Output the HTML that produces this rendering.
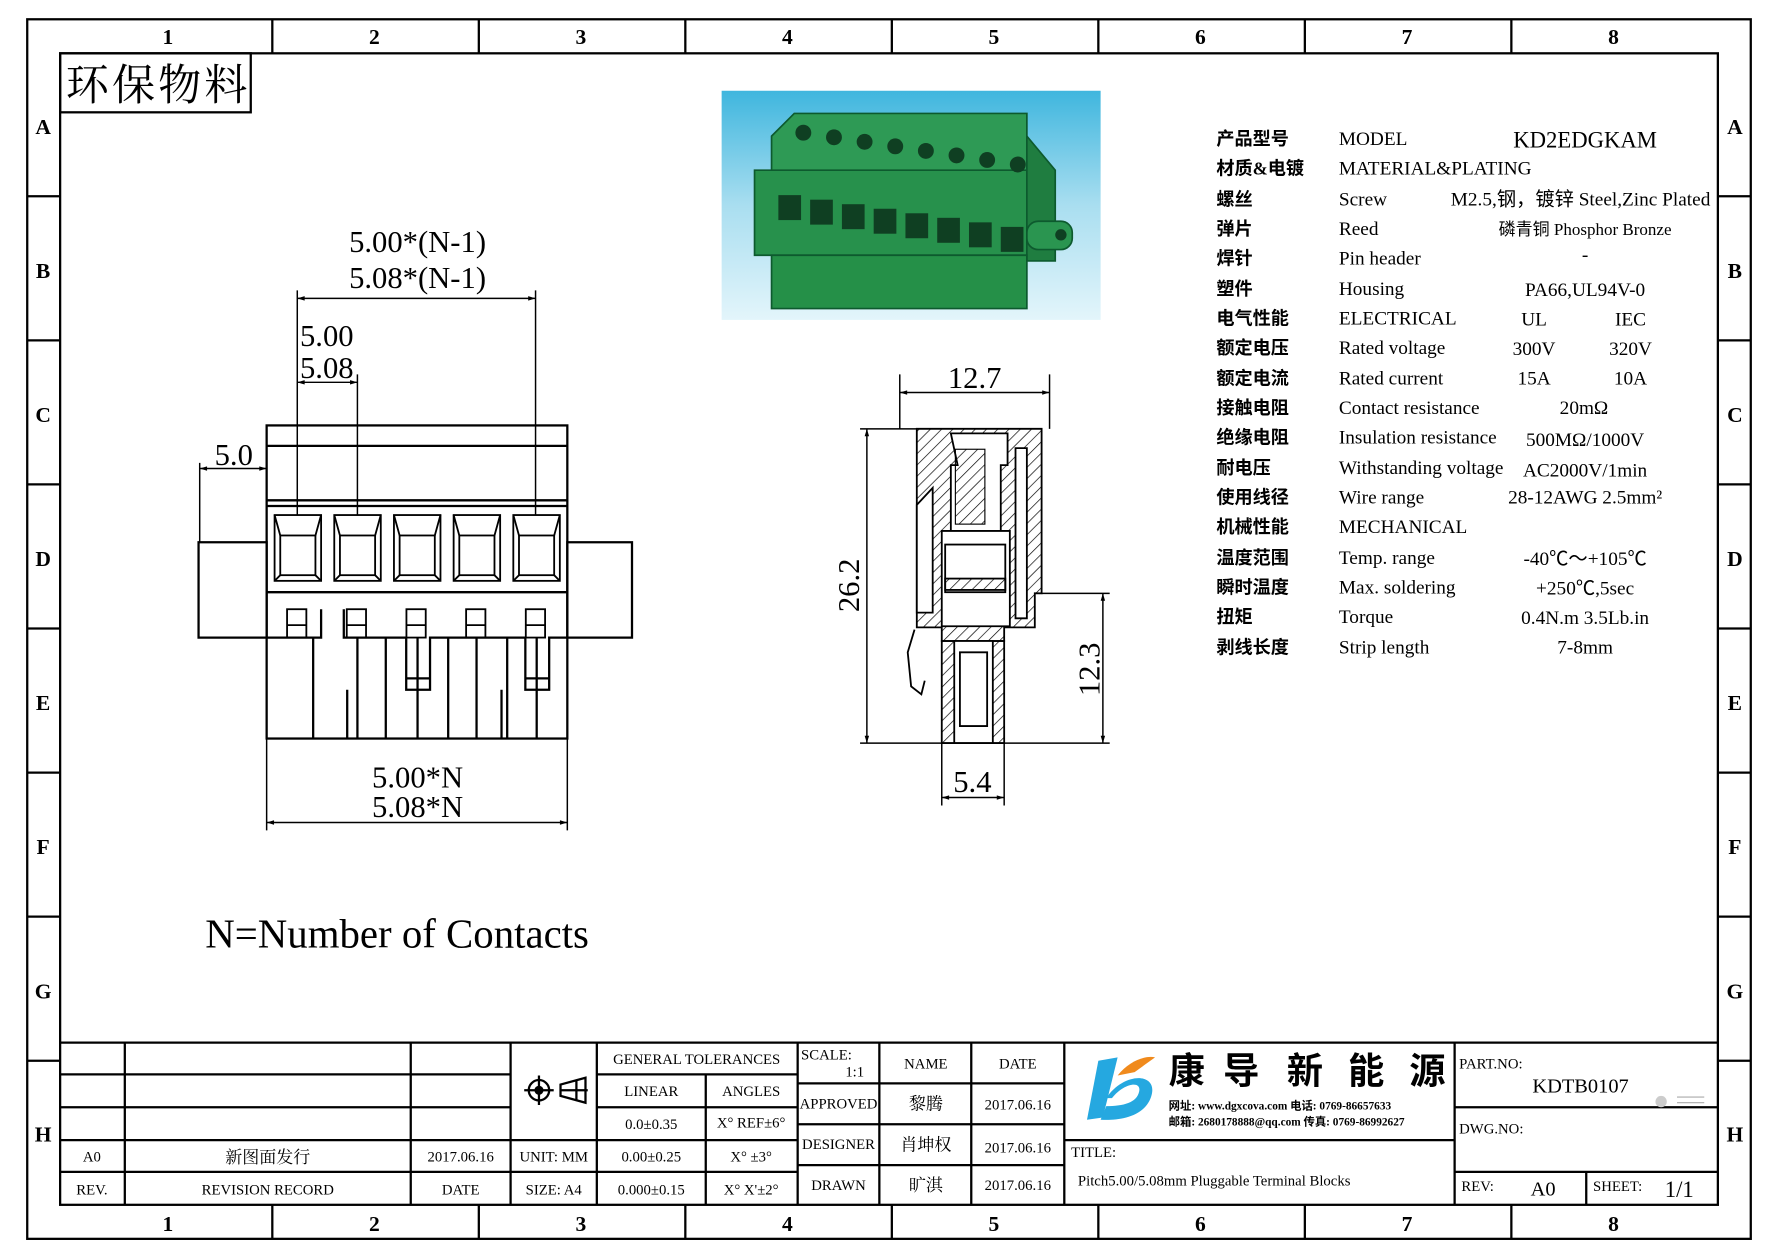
<!DOCTYPE html>
<html><head><meta charset="utf-8"><style>
html,body{margin:0;padding:0;background:#fff}
svg{display:block}
text{font-family:"Liberation Sans Narrow","Liberation Serif","Noto Sans CJK SC",serif;fill:#000}
.c{font-family:"Liberation Sans","Noto Sans CJK SC",sans-serif;font-weight:bold}
.s{font-family:"Liberation Serif","Noto Serif CJK SC","Noto Sans CJK SC",serif}
</style></head><body>
<svg width="1778" height="1257" viewBox="0 0 1567 1108" preserveAspectRatio="none" xmlns="http://www.w3.org/2000/svg">
<defs>
<pattern id="h" width="7" height="7" patternUnits="userSpaceOnUse" patternTransform="rotate(45)"><line x1="0" y1="0" x2="0" y2="7" stroke="#000" stroke-width="1.2"/></pattern>
<linearGradient id="bg" x1="0" y1="0" x2="0" y2="1"><stop offset="0" stop-color="#3fb6de"/><stop offset="0.5" stop-color="#a9def0"/><stop offset="1" stop-color="#e3f5fb"/></linearGradient>
<marker id="a" viewBox="0 0 10 10" refX="10" refY="5" markerWidth="8" markerHeight="5" orient="auto-start-reverse"><path d="M0,2 L10,5 L0,8z" fill="#000"/></marker>
</defs>
<g fill="none" stroke="#000" stroke-width="2">
<rect x="24" y="17" width="1519" height="1075"/>
<rect x="53" y="47" width="1461" height="1015"/>
<path d="M240 17V47M422 17V47M604 17V47M786 17V47M968 17V47M1150 17V47M1332 17V47M240 1062V1092M422 1062V1092M604 1062V1092M786 1062V1092M968 1062V1092M1150 1062V1092M1332 1062V1092"/>
<path d="M24 173H53M24 300H53M24 427H53M24 554H53M24 681H53M24 808H53M24 935H53M1514 173H1543M1514 300H1543M1514 427H1543M1514 554H1543M1514 681H1543M1514 808H1543M1514 935H1543"/>
<rect x="53" y="47" width="168" height="52"/>
</g>
<g class="c" font-size="19" text-anchor="middle">
<text x="148" y="39">1</text><text x="330" y="39">2</text><text x="512" y="39">3</text><text x="694" y="39">4</text><text x="876" y="39">5</text><text x="1058" y="39">6</text><text x="1240" y="39">7</text><text x="1422" y="39">8</text>
<text x="148" y="1085">1</text><text x="330" y="1085">2</text><text x="512" y="1085">3</text><text x="694" y="1085">4</text><text x="876" y="1085">5</text><text x="1058" y="1085">6</text><text x="1240" y="1085">7</text><text x="1422" y="1085">8</text>
<text x="38" y="118">A</text><text x="38" y="245">B</text><text x="38" y="372">C</text><text x="38" y="499">D</text><text x="38" y="626">E</text><text x="38" y="753">F</text><text x="38" y="880">G</text><text x="38" y="1006">H</text>
<text x="1529" y="118">A</text><text x="1529" y="245">B</text><text x="1529" y="372">C</text><text x="1529" y="499">D</text><text x="1529" y="626">E</text><text x="1529" y="753">F</text><text x="1529" y="880">G</text><text x="1529" y="1006">H</text>
</g>
<text x="58" y="88" font-size="38" class="s" textLength="160">环保物料</text>

<rect x="636" y="80" width="334" height="202" fill="url(#bg)"/>
<g stroke="#0d5a2e" stroke-width="1.5">
<path d="M680 120 L700 100 L905 100 L905 160 L680 160Z" fill="#2e9a55"/>
<path d="M665 150 L905 150 L905 225 L665 225Z" fill="#27914c"/>
<path d="M905 120 L930 150 L930 230 L905 230Z" fill="#1f7d40"/>
<path d="M680 225 L905 225 L905 272 L680 272Z" fill="#259048"/>
<rect x="905" y="195" width="40" height="25" rx="10" fill="#2a9550"/>
</g>
<g fill="#0f3f22">
<circle cx="708" cy="117" r="7"/><circle cx="735" cy="121" r="7"/><circle cx="762" cy="125" r="7"/><circle cx="789" cy="129" r="7"/><circle cx="816" cy="133" r="7"/><circle cx="843" cy="137" r="7"/><circle cx="870" cy="141" r="7"/><circle cx="897" cy="145" r="7"/>
<rect x="686" y="172" width="20" height="22"/><rect x="714" y="176" width="20" height="22"/><rect x="742" y="180" width="20" height="22"/><rect x="770" y="184" width="20" height="22"/><rect x="798" y="188" width="20" height="22"/><rect x="826" y="192" width="20" height="22"/><rect x="854" y="196" width="20" height="22"/><rect x="882" y="200" width="20" height="22"/>
<circle cx="935" cy="207" r="5"/>
</g>

<g fill="none" stroke="#000" stroke-width="2">
<rect x="235" y="375" width="265" height="276"/>
<path d="M235 393H500M235 441H500M235 446H500M235 522H500M175 478H235V562H175ZM500 478H557V562H500Z"/>
<path d="M235 562H283V537M303 537V562H358M358 562V608H379V562H463M463 562V608H484V562H500M358 598H379M463 598H484"/>
<path d="M276 562V651M315 562V651M340 562V651M368 562V651M395 562V651M420 562V651M447 562V651M473 562V651M306 608V651M442 608V651"/>
</g>
<g fill="none" stroke="#000" stroke-width="1.6">
<g id="w"><rect x="242" y="454" width="41" height="58"/><rect x="247" y="472" width="31" height="35"/><path d="M242 454L247 472M283 454L278 472M242 512L247 507M283 512L278 507"/><rect x="253" y="537" width="17" height="25"/><path d="M253 551H270"/></g>
<use href="#w" x="52.6"/><use href="#w" x="105.2"/><use href="#w" x="157.8"/><use href="#w" x="210.4"/>
</g>
<g stroke="#000" stroke-width="1.3" fill="none">
<path d="M262 454V256M472 454V256M315 454V330M262 420V330"/>
<path d="M262 263H472" marker-start="url(#a)" marker-end="url(#a)"/>
<path d="M262 337H315" marker-start="url(#a)" marker-end="url(#a)"/>
<path d="M176 478V408M235 408V375"/>
<path d="M176 413H235" marker-start="url(#a)" marker-end="url(#a)"/>
<path d="M235 651V732M500 651V732"/>
<path d="M235 725H500" marker-start="url(#a)" marker-end="url(#a)"/>
</g>
<g font-size="27" text-anchor="middle">
<text x="368" y="222">5.00*(N-1)</text><text x="368" y="254">5.08*(N-1)</text>
<text x="288" y="305">5.00</text><text x="288" y="333">5.08</text>
<text x="206" y="410">5.0</text>
<text x="368" y="694">5.00*N</text><text x="368" y="720">5.08*N</text>
<text x="350" y="835" font-size="36">N=Number of Contacts</text>
</g>

<g stroke="#000" stroke-width="1.6">
<path d="M808 378H918V523H912V553H885V565H830V553H808Z" fill="url(#h)"/>
<path d="M838 382H888V410H882V468H838V410H844Z" fill="#fff"/>
<rect x="842" y="396" width="26" height="66" fill="url(#h)" stroke-width="1"/>
<path d="M830 468H890V552H830Z" fill="#fff"/>
<rect x="833" y="480" width="53" height="42" fill="#fff"/>
<rect x="833" y="510" width="53" height="10" fill="url(#h)"/>
<path d="M822 430L808 445V540H822Z" fill="#fff"/>
<path d="M895 395H905V545H895Z" fill="#fff"/>
<path d="M830 565H885V655H830Z" fill="url(#h)"/>
<path d="M841 565H875V655H841Z" fill="#fff"/>
<path d="M846 575H870V640H846Z" fill="none"/>
<path d="M806 555L800 575L803 605L812 612L815 600" fill="none"/>
</g>
<g stroke="#000" stroke-width="1.3" fill="none">
<path d="M793 378V330M925 378V330"/>
<path d="M793 346H925" marker-start="url(#a)" marker-end="url(#a)"/>
<path d="M758 378H808M758 655H978M918 523H978"/>
<path d="M764 378V655" marker-start="url(#a)" marker-end="url(#a)"/>
<path d="M972 523V655" marker-start="url(#a)" marker-end="url(#a)"/>
<path d="M830 655V710M885 655V710"/>
<path d="M830 703H885" marker-start="url(#a)" marker-end="url(#a)"/>
</g>
<g font-size="27" text-anchor="middle">
<text x="859" y="342">12.7</text>
<text x="857" y="698">5.4</text>
<text transform="translate(757,516) rotate(-90)">26.2</text>
<text transform="translate(969,590) rotate(-90)">12.3</text>
</g>

<g font-size="17">
<g class="c" font-size="16">
<text x="1072" y="128">产品型号</text><text x="1072" y="154">材质&amp;电镀</text><text x="1072" y="181">螺丝</text><text x="1072" y="207">弹片</text><text x="1072" y="233">焊针</text><text x="1072" y="260">塑件</text><text x="1072" y="286">电气性能</text><text x="1072" y="312">额定电压</text><text x="1072" y="339">额定电流</text><text x="1072" y="365">接触电阻</text><text x="1072" y="391">绝缘电阻</text><text x="1072" y="418">耐电压</text><text x="1072" y="444">使用线径</text><text x="1072" y="470">机械性能</text><text x="1072" y="497">温度范围</text><text x="1072" y="523">瞬时温度</text><text x="1072" y="549">扭矩</text><text x="1072" y="576">剥线长度</text>
</g>
<text x="1180" y="128">MODEL</text><text x="1180" y="154">MATERIAL&amp;PLATING</text><text x="1180" y="181">Screw</text><text x="1180" y="207">Reed</text><text x="1180" y="233">Pin header</text><text x="1180" y="260">Housing</text><text x="1180" y="286">ELECTRICAL</text><text x="1180" y="312">Rated voltage</text><text x="1180" y="339">Rated current</text><text x="1180" y="365">Contact resistance</text><text x="1180" y="391">Insulation resistance</text><text x="1180" y="418">Withstanding voltage</text><text x="1180" y="444">Wire range</text><text x="1180" y="470">MECHANICAL</text><text x="1180" y="497">Temp. range</text><text x="1180" y="523">Max. soldering</text><text x="1180" y="549">Torque</text><text x="1180" y="576">Strip length</text>
<g text-anchor="middle">
<text x="1397" y="130" font-size="20">KD2EDGKAM</text>
<text x="1393" y="181">M2.5,钢，镀锌 Steel,Zinc Plated</text>
<text x="1397" y="207" font-size="15">磷青铜 Phosphor Bronze</text>
<text x="1397" y="230">-</text>
<text x="1397" y="261">PA66,UL94V-0</text>
<text x="1352" y="287">UL</text><text x="1437" y="287">IEC</text>
<text x="1352" y="313">300V</text><text x="1437" y="313">320V</text>
<text x="1352" y="339">15A</text><text x="1437" y="339">10A</text>
<text x="1396" y="365">20mΩ</text>
<text x="1397" y="393">500MΩ/1000V</text>
<text x="1397" y="420">AC2000V/1min</text>
<text x="1397" y="444">28-12AWG 2.5mm²</text>
<text x="1397" y="498">-40℃～+105℃</text>
<text x="1397" y="524">+250℃,5sec</text>
<text x="1397" y="550">0.4N.m 3.5Lb.in</text>
<text x="1397" y="576">7-8mm</text>
</g>
</g>

<g fill="none" stroke="#000" stroke-width="2">
<path d="M53 919H1514"/>
<path d="M53 947H450M53 976H450M53 1005H526M53 1033H703M526 947H703M526 976H703M526 1005H703"/>
<path d="M110 919V1062M362 919V1062M450 919V1062M526 919V1062M622 947V1062M703 919V1062"/>
<path d="M703 955H938M703 991H938M703 1027H938M775 919V1062M856 919V1062M938 919V1062"/>
<path d="M938 1005H1282M1282 919V1062M1282 976H1514M1282 1033H1514M1398 1033V1062"/>
</g>
<g stroke="#000" stroke-width="2" fill="none">
<circle cx="475" cy="961" r="9"/><path d="M462 961H488M475 948V974"/><circle cx="475" cy="961" r="3" fill="#000"/>
<path d="M494 956L516 950V972L494 966ZM494 961H518M508 952V970"/>
</g>
<g font-size="13" text-anchor="middle">
<text x="81" y="1024">A0</text><text x="236" y="1025" class="s" font-size="15">新图面发行</text><text x="406" y="1024">2017.06.16</text><text x="488" y="1024">UNIT: MM</text><text x="574" y="1024">0.00±0.25</text><text x="662" y="1024">X° ±3°</text>
<text x="81" y="1053">REV.</text><text x="236" y="1053">REVISION RECORD</text><text x="406" y="1053">DATE</text><text x="488" y="1053">SIZE: A4</text><text x="574" y="1053">0.000±0.15</text><text x="662" y="1053">X° X'±2°</text>
<text x="614" y="938">GENERAL TOLERANCES</text><text x="574" y="966">LINEAR</text><text x="662" y="966">ANGLES</text><text x="574" y="995">0.0±0.35</text><text x="662" y="994">X° REF±6°</text>
<text x="816" y="942">NAME</text><text x="897" y="942">DATE</text>
<text x="739" y="977">APPROVED</text><text x="816" y="978" class="s" font-size="15">黎腾</text><text x="897" y="978">2017.06.16</text>
<text x="739" y="1013">DESIGNER</text><text x="816" y="1014" class="s" font-size="15">肖坤权</text><text x="897" y="1016">2017.06.16</text>
<text x="739" y="1049">DRAWN</text><text x="816" y="1050" class="s" font-size="15">旷淇</text><text x="897" y="1049">2017.06.16</text>
</g>
<g font-size="13">
<text x="706" y="934">SCALE:</text><text x="745" y="949">1:1</text>
<text x="944" y="1020">TITLE:</text>
<text x="950" y="1045">Pitch5.00/5.08mm Pluggable Terminal Blocks</text>
<text x="1286" y="942">PART.NO:</text><text x="1286" y="999">DWG.NO:</text>
<text x="1288" y="1050">REV:</text><text x="1404" y="1050">SHEET:</text>
</g>
<text x="1393" y="963" font-size="18" text-anchor="middle">KDTB0107</text>
<text x="1360" y="1054" font-size="18" text-anchor="middle">A0</text>
<text x="1480" y="1055" font-size="20" text-anchor="middle">1/1</text>
<path d="M968 935 L985 932 L972 985 L958 987Z" fill="#25a8e0"/>
<path d="M975 968 C990 945 1020 945 1015 965 C1010 985 985 988 970 987 L975 975 C990 975 1002 972 1004 962 C1006 952 990 955 980 968Z" fill="#25a8e0"/>
<path d="M985 948 C995 935 1010 930 1018 932 L1000 945Z" fill="#f08a1c"/>
<g class="s" font-size="32" font-weight="bold"><text x="1030" y="955">康</text><text x="1078" y="955">导</text><text x="1134" y="955">新</text><text x="1188" y="955">能</text><text x="1242" y="955">源</text></g>
<g font-size="10" font-weight="bold" class="c"><text x="1030" y="978">网址: www.dgxcova.com   电话: 0769-86657633</text><text x="1030" y="992">邮箱: 2680178888@qq.com 传真: 0769-86992627</text></g>
<circle cx="1464" cy="971" r="5" fill="#ccc"/><path d="M1478 967H1502M1478 972H1502" stroke="#aaa"/>
</svg>
</body></html>
